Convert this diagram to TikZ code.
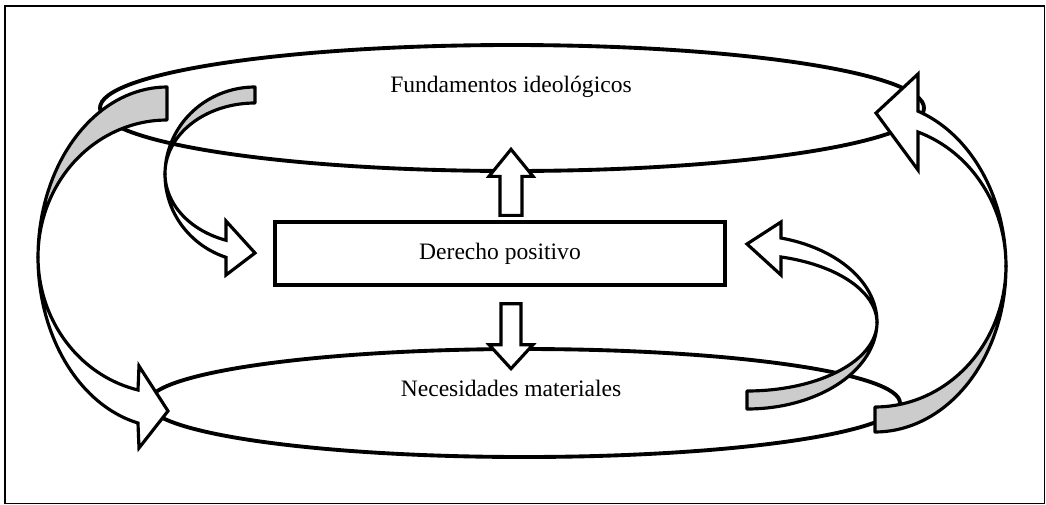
\documentclass[tikz,border=0pt]{standalone}
\usepackage{fontspec}
\setmainfont{Liberation Serif}
\usetikzlibrary{calc}
\tikzset{
ring/.style={draw, line width=2.2pt},
bandback/.style={draw, fill=black!20, line width=1.8pt, line join=round},
bandfront/.style={draw, fill=white, line width=1.8pt, line join=miter},
blockarr/.style={draw, fill=white, line width=1.8pt},
lbl/.style={anchor=base}
}

\begin{document}
\begin{tikzpicture}[x=0.2mm, y=-0.2mm, font=\fontsize{13.4}{16}\selectfont]
  \useasboundingbox (0,0) rectangle (1046,504);
  \draw[line width=1.1pt] (5,6) rectangle (1044.5,503.5);

  % rings
  \draw[ring] (512,108) ellipse [x radius=412, y radius=63];
  \draw[ring] (524,403) ellipse [x radius=376, y radius=54];
  \node[lbl] (fund) at (511,92) {Fundamentos ideológicos};
  \node[lbl] (nec) at (511,396) {Necesidades materiales};

  \node[draw, line width=1.9pt, minimum width=90mm, minimum height=12.6mm] (pos) at (500,253.5) {Derecho positivo};

  \draw[blockarr, shift={(pos.north)}] (0,-5) -- (0,-44) -- (-11,-44) -- (11,-71) -- (33,-44) -- (22,-44) -- (22,-5) -- cycle;
  \draw[blockarr, shift={(pos.south)}] (1,17) -- (1,58) -- (-11,58) -- (11,82) -- (33,58) -- (21,58) -- (21,17) -- cycle;

  % left, big
  \path[bandback] plot[domain=90:180, samples=40] ({167+129*cos(\x)},{257.2-170.2*sin(\x)})
    -- plot[domain=180:90, samples=40] ({167+129*cos(\x)},{256.75-136.75*sin(\x)}) -- cycle;
  \path[bandfront] plot[domain=180:257, samples=40] ({167+129*cos(\x)},{257.2-170.2*sin(\x)})
    -- (139,448) -- (168,411) -- (139,366)
    -- plot[domain=257:180, samples=40] ({167+129*cos(\x)},{256.75-136.75*sin(\x)}) -- cycle;

  % left, small
  \path[bandback] plot[domain=90:180, samples=40] ({255+90*cos(\x)},{174.5-87.5*sin(\x)})
    -- plot[domain=180:90, samples=40] ({255+90*cos(\x)},{173.5-70.5*sin(\x)}) -- cycle;
  \path[bandfront] plot[domain=180:251.2, samples=40] ({255+90*cos(\x)},{174.5-87.5*sin(\x)})
    -- (226,275) -- (255,253) -- (226,221)
    -- plot[domain=251.2:180, samples=40] ({255+90*cos(\x)},{173.5-70.5*sin(\x)}) -- cycle;

  % right, big
  \path[bandback] plot[domain=270:360, samples=40] ({875+131*cos(\x)},{267-165*sin(\x)})
    -- plot[domain=360:270, samples=40] ({875+131*cos(\x)},{265.6-141.4*sin(\x)}) -- cycle;
  \path[bandfront] plot[domain=360:430.85, samples=40] ({875+131*cos(\x)},{267-165*sin(\x)})
    -- (918,74) -- (876,113) -- (918,170)
    -- plot[domain=430.85:360, samples=40] ({875+131*cos(\x)},{265.6-141.4*sin(\x)}) -- cycle;

  % right, small
  \path[bandback] plot[domain=270:360, samples=40] ({747+130*cos(\x)},{322-87*sin(\x)})
    -- plot[domain=360:270, samples=40] ({747+130*cos(\x)},{322.8-68.2*sin(\x)}) -- cycle;
  \path[bandfront] plot[domain=360:434.84, samples=40] ({747+130*cos(\x)},{322-87*sin(\x)})
    -- (781,222) -- (747,244) -- (781,275)
    -- plot[domain=434.84:360, samples=40] ({747+130*cos(\x)},{322.8-68.2*sin(\x)}) -- cycle;
\end{tikzpicture}
\end{document}
